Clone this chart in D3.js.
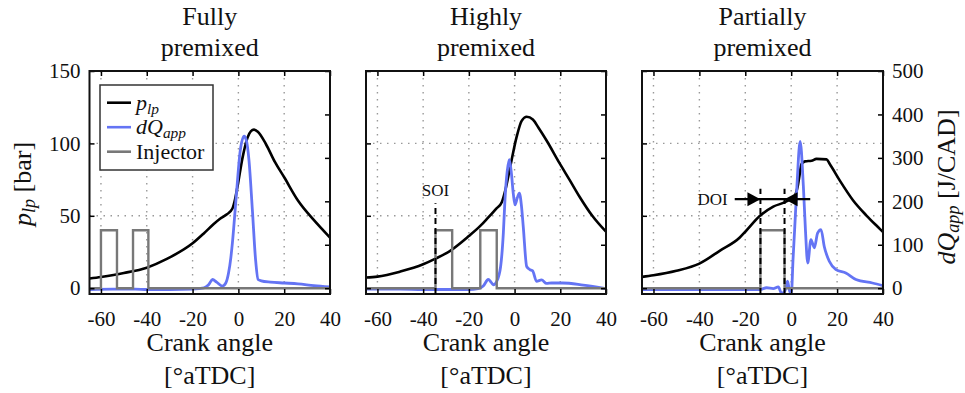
<!DOCTYPE html>
<html>
<head>
<meta charset="utf-8">
<script src="https://cdn.jsdelivr.net/npm/d3@7"></script>
<style>
  body { margin: 0; background: #fff; }
  svg text { font-family: "Liberation Serif", "DejaVu Serif", serif !important; fill: #111; }
</style>
</head>
<body>
<div id="chart"></div>
<script>
// Tick values and titles
var crankTicks = [-60, -40, -20, 0, 20, 40];
var pressureTicks = [0, 50, 100, 150];
var heatTicks = [0, 100, 200, 300, 400, 500];
var panelTitles = [["Fully", "premixed"], ["Highly", "premixed"], ["Partially", "premixed"]];

// Fully premixed: [crank angle, value]
var fullyPressure = [[-65,6.7],[-60,7.8],[-50,10.5],[-40,14.2],[-31,20.4],[-20,31],[-15,38],[-11,44],[-8,48],[-5,51],[-2.6,55],[-1.5,61],[-0.4,70],[1.8,90],[4,104],[5.5,108.5],[6.8,109.5],[8.5,108],[12,99.6],[16,87],[20,76.6],[26,60.6],[33,47],[40,35]];
var fullyHeat = [[-65,-3],[-55,-2],[-45,-2],[-40,-3],[-30,-3],[-20,-2],[-15,1],[-13,8],[-11.3,20],[-9.5,14],[-7,5],[-5.5,12],[-4.3,35],[-3.3,70],[-2.6,105],[-0.7,227],[0.7,312],[2.5,350],[3.5,340],[4.6,296],[6.1,181],[7.5,66],[8.6,20],[10,17],[14,14],[20,12],[26,10],[33,6],[40,3]];
var fullyInjector = [[-65,0],[-60,0],[-60,40],[-53,40],[-53,0],[-46,0],[-46,40],[-39.3,40],[-39.3,0],[40,0]];

// Highly premixed
var highlyPressure = [[-65,7.4],[-60,8],[-50,11.5],[-40,16.5],[-34.6,20.4],[-28,26],[-20,36],[-15,43],[-12,48],[-8,55],[-5.6,59.4],[-4,68],[-2,83],[0.9,104.5],[3.1,115.6],[5.3,118.4],[8,116.5],[10.4,111],[14,102],[19.8,86],[24,75],[28.5,63],[34,50],[40,39]];
var highlyHeat = [[-65,-2],[-50,-2],[-40,-3],[-30,-3],[-20,-3],[-16,-1],[-13.7,5],[-11.5,20],[-10.3,14],[-9.3,8],[-7.8,16],[-6.1,50],[-4.9,128],[-4.2,204],[-3.2,270],[-2.3,296],[-1.5,270],[-0.5,215],[0.2,192],[1.2,208],[2.1,219],[3,190],[3.8,142],[5.3,50],[6.7,43],[7.9,40],[9.6,16],[11.8,19],[14,11],[16.2,12],[21,12],[30,7],[40,-1]];
var highlyInjector = [[-65,0],[-34.6,0],[-34.6,40],[-27.3,40],[-27.3,0],[-15,0],[-15,40],[-7.8,40],[-7.8,0],[40,0]];
var soiAngle = -34.6, soiTop = 58.6;

// Partially premixed
var partialPressure = [[-65,7.8],[-60,8.9],[-50,12],[-40,17],[-31,26],[-22.4,35],[-20,39],[-13.6,50],[-7.8,56.4],[-2.7,59.4],[0,62],[1.6,64],[2.8,70],[3.5,76.6],[4.5,85.8],[6,87.6],[8.9,88],[11,89.3],[15.4,89],[16.8,85.8],[21.2,74.3],[27,60.6],[32.8,50.2],[38.6,41],[40,38.8]];
var partialHeat = [[-65,-3],[-40,-3],[-20,-3],[-13.6,-3],[-10.7,1],[-7.8,-1],[-5.6,3],[-4.2,-12],[-2.7,-6],[-1.6,16],[-0.6,-8],[0.1,-10],[0.8,66],[1.5,135],[2.5,235],[3.9,338],[5.3,235],[6.2,135],[7.2,58],[8.6,112],[10.1,93],[11.5,127],[13,135],[14.4,96],[16.6,62],[19.5,43],[23.8,35],[28.2,20],[35.4,12],[40,6]];
var partialInjector = [[-65,0],[-13.4,0],[-13.4,40],[-2.9,40],[-2.9,0],[40,0]];
var doiRange = [-13.4, -2.9], doiTop = 68.6, doiLevel = 61.5, doiArrowSpan = [-24.6, 8.3];

var panels = [
  {pressure: fullyPressure, heat: fullyHeat, injector: fullyInjector},
  {pressure: highlyPressure, heat: highlyHeat, injector: highlyInjector},
  {pressure: partialPressure, heat: partialHeat, injector: partialInjector}
];

var blue = "#6474f4", grey = "#787878";
var serif = "'Liberation Serif', 'DejaVu Serif', serif";
var plotTop = 71, plotBottom = 294;
var panelX = [[89.5, 330], [366, 606], [642, 883]];
var fmt = function(d) { return String(d); };

var svg = d3.select("#chart").append("svg")
  .attr("width", 965)
  .attr("height", 393)
  .style("font-family", serif);

panels.forEach(function(p, i) {
  var x = d3.scaleLinear().domain([-65, 40]).range(panelX[i]);
  var yL = d3.scaleLinear().domain([-4, 150]).range([plotBottom, plotTop]);
  var yR = d3.scaleLinear().domain([-40 / 3, 500]).range([plotBottom, plotTop]);
  var g = svg.append("g");

  g.append("clipPath").attr("id", "clip" + i)
    .append("rect")
    .attr("x", panelX[i][0]).attr("y", plotTop)
    .attr("width", panelX[i][1] - panelX[i][0]).attr("height", plotBottom - plotTop);

  // Dotted grid
  g.selectAll(".vgrid").data(crankTicks.filter(function(t) { return t < 40; }))
    .enter().append("line")
    .attr("x1", function(d) { return x(d); }).attr("x2", function(d) { return x(d); })
    .attr("y1", plotTop).attr("y2", plotBottom)
    .attr("stroke", "#999").attr("stroke-width", 1.4).attr("stroke-dasharray", "1.5,5.5");
  g.selectAll(".hgrid").data([50, 100])
    .enter().append("line")
    .attr("x1", panelX[i][0]).attr("x2", panelX[i][1])
    .attr("y1", function(d) { return yL(d); }).attr("y2", function(d) { return yL(d); })
    .attr("stroke", "#999").attr("stroke-width", 1.4).attr("stroke-dasharray", "1.5,5.5");

  var plot = g.append("g").attr("clip-path", "url(#clip" + i + ")");

  var lineL = d3.line()
    .x(function(d) { return x(d[0]); })
    .y(function(d) { return yL(d[1]); })
    .curve(d3.curveMonotoneX);
  var lineR = d3.line()
    .x(function(d) { return x(d[0]); })
    .y(function(d) { return yR(d[1]); })
    .curve(d3.curveMonotoneX);
  var stepLine = d3.line()
    .x(function(d) { return x(d[0]); })
    .y(function(d) { return yL(d[1]); });

  plot.append("path").datum(p.pressure)
    .attr("d", lineL).attr("fill", "none").attr("stroke", "#000").attr("stroke-width", 2.6);
  plot.append("path").datum(p.heat)
    .attr("d", lineR).attr("fill", "none").attr("stroke", blue).attr("stroke-width", 2.8)
    .attr("stroke-linejoin", "round");
  plot.append("path").datum(p.injector)
    .attr("d", stepLine).attr("fill", "none").attr("stroke", grey).attr("stroke-width", 2.4);

  // Axes with inward ticks
  g.append("g").attr("transform", "translate(0," + plotBottom + ")")
    .call(d3.axisBottom(x).tickValues(crankTicks).tickSize(-5).tickPadding(17).tickFormat(fmt))
    .call(function(a) { a.select(".domain").remove(); });
  g.append("g").attr("transform", "translate(0," + plotTop + ")")
    .call(d3.axisTop(x).tickValues(crankTicks).tickSize(-5).tickFormat(""))
    .call(function(a) { a.select(".domain").remove(); });
  g.append("g").attr("transform", "translate(" + panelX[i][0] + ",0)")
    .call(d3.axisLeft(yL).tickValues(pressureTicks).tickSize(-5).tickPadding(9)
      .tickFormat(i === 0 ? fmt : function() { return ""; }))
    .call(function(a) { a.select(".domain").remove(); });
  g.append("g").attr("transform", "translate(" + panelX[i][1] + ",0)")
    .call(d3.axisRight(yR).tickValues(heatTicks).tickSize(-5).tickPadding(9)
      .tickFormat(i === 2 ? fmt : function() { return ""; }))
    .call(function(a) { a.select(".domain").remove(); });

  g.selectAll("g").attr("font-family", null);
  g.selectAll(".tick line").attr("stroke", "#000").attr("stroke-width", 1.5);
  g.selectAll(".tick text")
    .style("font-family", serif)
    .style("font-size", "21px")
    .attr("fill", "#111");

  // Frame
  g.append("rect")
    .attr("x", panelX[i][0]).attr("y", plotTop)
    .attr("width", panelX[i][1] - panelX[i][0]).attr("height", plotBottom - plotTop)
    .attr("fill", "none").attr("stroke", "#111").attr("stroke-width", 2);

  var cx = (panelX[i][0] + panelX[i][1]) / 2;

  // Title
  g.append("text").attr("x", cx).attr("y", 25).attr("text-anchor", "middle")
    .style("font-size", "26px").text(panelTitles[i][0]);
  g.append("text").attr("x", cx).attr("y", 56).attr("text-anchor", "middle")
    .style("font-size", "26px").text(panelTitles[i][1]);

  // x label
  g.append("text").attr("x", cx).attr("y", 351).attr("text-anchor", "middle")
    .style("font-size", "26px").text("Crank angle");
  g.append("text").attr("x", cx).attr("y", 384).attr("text-anchor", "middle")
    .style("font-size", "26px").text("[°aTDC]");

  // Annotations
  if (i === 1) {
    g.append("line")
      .attr("x1", x(soiAngle)).attr("x2", x(soiAngle))
      .attr("y1", plotBottom).attr("y2", yL(soiTop))
      .attr("stroke", "#000").attr("stroke-width", 2).attr("stroke-dasharray", "6,4");
    g.append("text").attr("x", x(soiAngle)).attr("y", yL(soiTop) - 7)
      .attr("text-anchor", "middle").style("font-size", "17px").text("SOI");
  }
  if (i === 2) {
    g.selectAll(".doi").data(doiRange).enter().append("line")
      .attr("x1", function(d) { return x(d); }).attr("x2", function(d) { return x(d); })
      .attr("y1", plotBottom).attr("y2", yL(doiTop))
      .attr("stroke", "#000").attr("stroke-width", 2).attr("stroke-dasharray", "6,4");
    var ay = yL(doiLevel);
    g.append("line")
      .attr("x1", x(doiArrowSpan[0])).attr("x2", x(doiArrowSpan[1]))
      .attr("y1", ay).attr("y2", ay)
      .attr("stroke", "#000").attr("stroke-width", 2.4);
    var t1 = x(doiRange[0]), t2 = x(doiRange[1]);
    g.append("path")
      .attr("d", "M" + t1 + "," + ay + "L" + (t1 - 13) + "," + (ay - 7) + "L" + (t1 - 13) + "," + (ay + 7) + "Z")
      .attr("fill", "#000");
    g.append("path")
      .attr("d", "M" + t2 + "," + ay + "L" + (t2 + 13) + "," + (ay - 7) + "L" + (t2 + 13) + "," + (ay + 7) + "Z")
      .attr("fill", "#000");
    g.append("text").attr("x", x(doiArrowSpan[0]) - 7).attr("y", ay + 6)
      .attr("text-anchor", "end").style("font-size", "17px").text("DOI");
  }

  // Legend in the first panel
  if (i === 0) {
    var leg = g.append("g");
    leg.append("rect").attr("x", 100).attr("y", 85).attr("width", 113).attr("height", 85)
      .attr("fill", "#fff").attr("stroke", "#333").attr("stroke-width", 1.5);
    var items = [
      {color: "#000", parts: [["p", "i"], ["lp", "s"]]},
      {color: blue, parts: [["dQ", "i"], ["app", "s"]]},
      {color: grey, parts: [["Injector", "n"]]}
    ];
    items.forEach(function(it, k) {
      var ly = 102.7 + k * 24.5;
      leg.append("line").attr("x1", 107).attr("x2", 131).attr("y1", ly).attr("y2", ly)
        .attr("stroke", it.color).attr("stroke-width", 2.6);
      var t = leg.append("text").attr("x", 136).attr("y", ly + 7).style("font-size", "22px");
      addParts(t, it.parts);
    });
  }
});

function addParts(t, parts) {
  parts.forEach(function(pt) {
    var s = t.append("tspan").text(pt[0]);
    if (pt[1] === "i") s.style("font-style", "italic");
    if (pt[1] === "s") s.style("font-style", "italic").style("font-size", "0.7em").attr("dy", "4");
    if (pt[1] === "r") s.attr("dy", "-4");
  });
}

// y labels
var yl = svg.append("text")
  .attr("transform", "translate(31,184) rotate(-90)")
  .attr("text-anchor", "middle").style("font-size", "26px");
addParts(yl, [["p", "i"], ["lp", "s"], [" [bar]", "r"]]);

var yr = svg.append("text")
  .attr("transform", "translate(955,187) rotate(-90)")
  .attr("text-anchor", "middle").style("font-size", "26px");
addParts(yr, [["dQ", "i"], ["app", "s"], [" [J/CAD]", "r"]]);
</script>
</body>
</html>
